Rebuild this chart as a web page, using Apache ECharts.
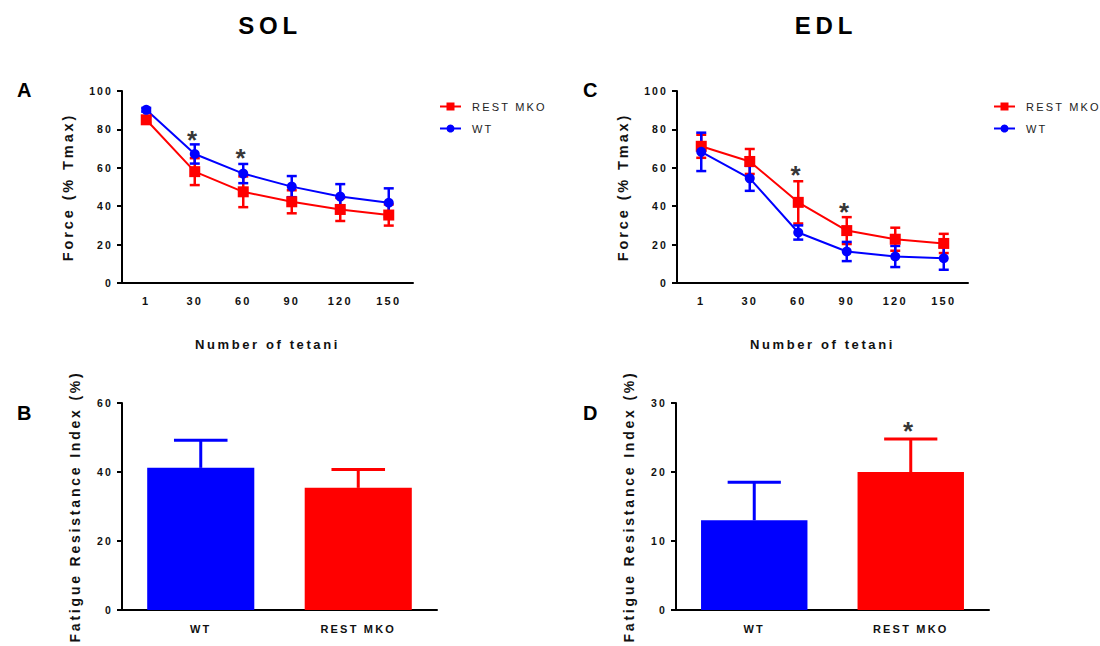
<!DOCTYPE html>
<html>
<head>
<meta charset="utf-8">
<title>SOL / EDL fatigue</title>
<script src="https://cdn.jsdelivr.net/npm/echarts@6/dist/echarts.min.js"></script>
<style>
  html, body { margin: 0; padding: 0; background: #fff; }
  #chart { width: 1100px; height: 646px; }
  /* the original figure uses wide letter spacing everywhere */
  #chart text { letter-spacing: 0.2em; }
</style>
</head>
<body>
<div id="chart"></div>
<script>
// number of tetani (x categories of the line panels)
const tetani = ['1', '30', '60', '90', '120', '150'];

// SOL force (% Tmax), mean and SD
const solMko = [85, 58, 47.5, 42.3, 38.3, 35.4];
const solMkoSd = [1.5, 7, 8, 6, 6, 5.5];
const solWt = [90.2, 67.2, 57, 50.2, 45, 41.8];
const solWtSd = [1, 5, 5, 5.5, 6.5, 7.5];
const solStars = [null, 74.5, 65, null, null, null];

// EDL force (% Tmax), mean and SD
const edlMko = [71.2, 63.3, 42, 27.3, 22.8, 20.6];
const edlMkoSd = [6, 6.5, 11, 7, 6, 5];
const edlWt = [68.3, 54.5, 26.3, 16.4, 13.8, 12.9];
const edlWtSd = [10, 6.5, 3.7, 5, 5.5, 6];
const edlStars = [null, null, 56, 37, null, null];

// fatigue resistance index (%)
const groups = ['WT', 'REST MKO'];
const solIndex = [41.2, 35.4];
const solIndexSd = [8, 5.3];
const edlIndex = [13, 20];
const edlIndexSd = [5.5, 4.8];
const edlIndexStars = [null, 26];

const RED = '#ff0000';
const BLUE = '#0000ff';
const FONT = 'Liberation Sans, Arial, sans-serif';

const chart = echarts.init(document.getElementById('chart'), null, { renderer: 'svg' });

function xAxis(gridIndex, data, name, margin) {
  return {
    type: 'category',
    gridIndex: gridIndex,
    data: data,
    boundaryGap: true,
    name: name,
    nameLocation: 'middle',
    nameGap: 55,
    nameTextStyle: { fontFamily: FONT, fontWeight: 'bold', fontSize: 13, color: '#111' },
    axisLine: { lineStyle: { color: '#000', width: 2 } },
    axisTick: { alignWithLabel: true, length: 5, lineStyle: { color: '#000', width: 2 } },
    axisLabel: { fontFamily: FONT, fontWeight: 'bold', fontSize: 11, color: '#111', margin: margin }
  };
}

function yAxis(gridIndex, max, interval, name, gap, size) {
  return {
    type: 'value',
    gridIndex: gridIndex,
    min: 0,
    max: max,
    interval: interval,
    name: name,
    nameLocation: 'middle',
    nameGap: gap,
    nameTextStyle: { fontFamily: FONT, fontWeight: 'bold', fontSize: size, color: '#111' },
    splitLine: { show: false },
    axisLine: { show: true, lineStyle: { color: '#000', width: 2 } },
    axisTick: { show: true, length: 5, lineStyle: { color: '#000', width: 2 } },
    axisLabel: { fontFamily: FONT, fontWeight: 'bold', fontSize: 10.5, color: '#111', margin: 9 }
  };
}

// two sided error bars with caps for the line panels
function errorBars(idx, means, sds, color) {
  return {
    type: 'custom',
    xAxisIndex: idx,
    yAxisIndex: idx,
    silent: true,
    data: means.map((m, i) => [i, m, sds[i]]),
    encode: { x: 0, y: 1 },
    renderItem: function (params, api) {
      const i = api.value(0), m = api.value(1), s = api.value(2);
      const top = api.coord([i, m + s]);
      const bot = api.coord([i, m - s]);
      const st = { stroke: color, lineWidth: 2.5 };
      return {
        type: 'group',
        children: [
          { type: 'line', shape: { x1: top[0], y1: top[1], x2: bot[0], y2: bot[1] }, style: st },
          { type: 'line', shape: { x1: top[0] - 5, y1: top[1], x2: top[0] + 5, y2: top[1] }, style: st },
          { type: 'line', shape: { x1: bot[0] - 5, y1: bot[1], x2: bot[0] + 5, y2: bot[1] }, style: st }
        ]
      };
    }
  };
}

// upward only error bars for the bar panels
function barErrors(idx, means, sds, colors) {
  return {
    type: 'custom',
    xAxisIndex: idx,
    yAxisIndex: idx,
    silent: true,
    z: 1,
    data: means.map((m, i) => [i, m, sds[i]]),
    encode: { x: 0, y: 1 },
    renderItem: function (params, api) {
      const i = api.value(0), m = api.value(1), s = api.value(2);
      const base = api.coord([i, m]);
      const top = api.coord([i, m + s]);
      const half = api.size([1, 0])[0] * 0.17;
      const st = { stroke: colors[i], lineWidth: 3 };
      return {
        type: 'group',
        children: [
          { type: 'line', shape: { x1: base[0], y1: base[1], x2: top[0], y2: top[1] }, style: st },
          { type: 'line', shape: { x1: top[0] - half, y1: top[1], x2: top[0] + half, y2: top[1] }, style: st }
        ]
      };
    }
  };
}

function lineSeries(name, idx, data, color, symbol, size) {
  return {
    type: 'line',
    name: name,
    xAxisIndex: idx,
    yAxisIndex: idx,
    data: data,
    symbol: symbol,
    symbolSize: size,
    showAllSymbol: true,
    lineStyle: { color: color, width: 2 },
    itemStyle: { color: color },
    emphasis: { disabled: true }
  };
}

function stars(idx, data) {
  return {
    type: 'scatter',
    xAxisIndex: idx,
    yAxisIndex: idx,
    data: data,
    symbolSize: 0,
    silent: true,
    label: {
      show: true, position: 'inside', formatter: '*',
      fontFamily: FONT, fontWeight: 'bold', fontSize: 26, color: '#000'
    }
  };
}

function legend(left) {
  return {
    left: left, top: 96, orient: 'vertical',
    data: ['REST MKO', 'WT'],
    itemWidth: 21, itemHeight: 10, itemGap: 11,
    selectedMode: false,
    textStyle: { fontFamily: FONT, fontSize: 11, color: '#222', padding: [0, 0, 0, 6] }
  };
}

const titleStyle = { fontFamily: FONT, fontWeight: 'bold', color: '#000' };

const option = {
  animation: false,
  title: [
    { text: 'SOL', left: 265, top: 8, textAlign: 'center', textStyle: Object.assign({ fontSize: 24 }, titleStyle) },
    { text: 'EDL', left: 821, top: 8, textAlign: 'center', textStyle: Object.assign({ fontSize: 24 }, titleStyle) },
    { text: 'A', left: 12, top: 75, textStyle: Object.assign({ fontSize: 20 }, titleStyle) },
    { text: 'B', left: 12, top: 398, textStyle: Object.assign({ fontSize: 20 }, titleStyle) },
    { text: 'C', left: 578, top: 75, textStyle: Object.assign({ fontSize: 20 }, titleStyle) },
    { text: 'D', left: 578, top: 398, textStyle: Object.assign({ fontSize: 20 }, titleStyle) }
  ],
  legend: [legend(434), legend(988)],
  grid: [
    { left: 122, top: 91, width: 291, height: 192 },
    { left: 677, top: 91, width: 291, height: 192 },
    { left: 122, top: 403, width: 315, height: 207 },
    { left: 676, top: 403, width: 313, height: 207 }
  ],
  xAxis: [
    xAxis(0, tetani, 'Number of tetani', 12),
    xAxis(1, tetani, 'Number of tetani', 12),
    xAxis(2, groups, '', 13),
    xAxis(3, groups, '', 13)
  ],
  yAxis: [
    yAxis(0, 100, 20, 'Force (% Tmax)', 47, 14.5),
    yAxis(1, 100, 20, 'Force (% Tmax)', 47, 14.5),
    yAxis(2, 60, 20, 'Fatigue Resistance Index (%)', 40, 14),
    yAxis(3, 30, 10, 'Fatigue Resistance Index (%)', 40, 14)
  ],
  series: [
    lineSeries('REST MKO', 0, solMko, RED, 'rect', 11),
    lineSeries('WT', 0, solWt, BLUE, 'circle', 10),
    errorBars(0, solMko, solMkoSd, RED),
    errorBars(0, solWt, solWtSd, BLUE),
    stars(0, solStars),

    lineSeries('REST MKO', 1, edlMko, RED, 'rect', 11),
    lineSeries('WT', 1, edlWt, BLUE, 'circle', 10),
    errorBars(1, edlMko, edlMkoSd, RED),
    errorBars(1, edlWt, edlWtSd, BLUE),
    stars(1, edlStars),

    barErrors(2, solIndex, solIndexSd, [BLUE, RED]),
    {
      type: 'bar', xAxisIndex: 2, yAxisIndex: 2, barWidth: '68%', z: 2,
      data: solIndex.map((v, i) => ({ value: v, itemStyle: { color: i === 0 ? BLUE : RED } }))
    },
    barErrors(3, edlIndex, edlIndexSd, [BLUE, RED]),
    {
      type: 'bar', xAxisIndex: 3, yAxisIndex: 3, barWidth: '68%', z: 2,
      data: edlIndex.map((v, i) => ({ value: v, itemStyle: { color: i === 0 ? BLUE : RED } }))
    },
    stars(3, edlIndexStars)
  ]
};

chart.setOption(option);
</script>
</body>
</html>
